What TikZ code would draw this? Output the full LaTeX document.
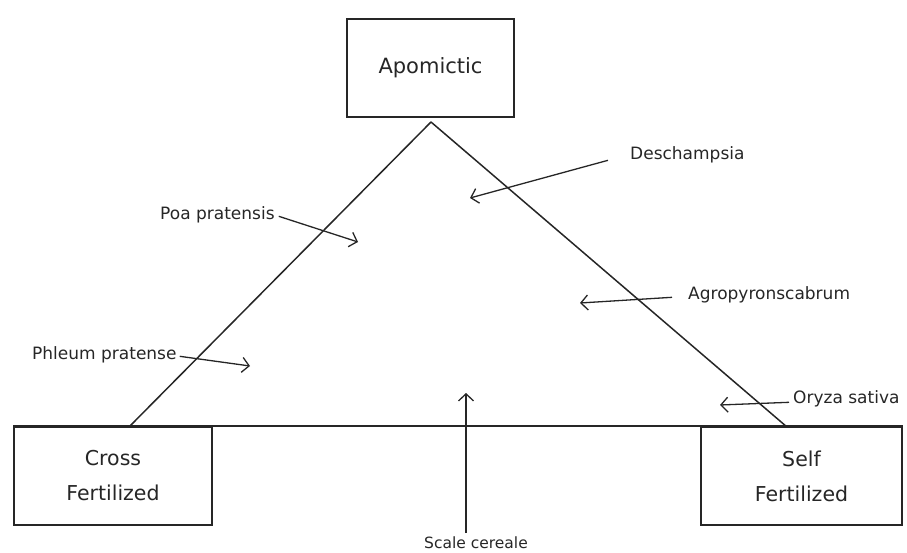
\documentclass[tikz,border=0pt]{standalone}
\usepackage{fontspec}
\setmainfont{DejaVu Sans}
\usetikzlibrary{arrows.meta}
\definecolor{ink}{HTML}{262626}
\begin{document}
\begin{tikzpicture}[x=1pt,y=-1pt,
  boxnode/.style={draw=ink,line width=1.7pt,text=ink,align=center,inner sep=0pt},
  lbl/.style={text=ink,anchor=base west,inner sep=0pt,font=\fontsize{17}{20}\selectfont},
  edge/.style={draw=ink,line width=1.5pt},
  ptr/.style={draw=ink,line width=1.3pt,-{Straight Barb[length=7pt,width=15pt,line width=1.3pt]}}]
\useasboundingbox (0,0) rectangle (907,553);
% boxes
\node[boxnode,minimum width=167pt,minimum height=98pt,font=\fontsize{21}{35}\selectfont] (apo) at (430.5,68) {Apomictic};
\node[boxnode,minimum width=198pt,minimum height=98pt,font=\fontsize{20.5}{35}\selectfont] (cross) at (113,476) {Cross\\Fertilized};
\node[boxnode,minimum width=201pt,minimum height=98pt,font=\fontsize{20.5}{35}\selectfont] (self) at (801.5,476) {Self\\Fertilized};
% triangle
\coordinate (apex) at (431,122);
\coordinate (lfoot) at (129,427);
\coordinate (rfoot) at (787,427);
\draw[edge] (apex) -- (lfoot);
\draw[edge] (apex) -- (rfoot);
\draw[edge] (cross.north west) -- (self.north east);
% labels
\node[lbl] (poa) at (160,220) {Poa pratensis};
\node[lbl] (phl) at (32,359) {Phleum pratense};
\node[lbl] (des) at (630,160) {Deschampsia};
\node[lbl] (agr) at (688,299) {Agropyronscabrum};
\node[lbl] (ory) at (793,403) {Oryza sativa};
\node[lbl,anchor=base,font=\fontsize{15.5}{18}\selectfont] (sca) at (476,548) {Scale cereale};
% arrow targets
\coordinate (tpoa) at (358,242);
\coordinate (tphl) at (250,366);
\coordinate (tdes) at (470,198);
\coordinate (tagr) at (580,303);
\coordinate (tory) at (720,405);
\coordinate (tsca) at (466,393);
\coordinate (ssca) at (466,533);
\draw[ptr] ([xshift=4pt,yshift=-1pt]poa.east) -- (tpoa);
\draw[ptr] ([xshift=3pt,yshift=-2pt]phl.east) -- (tphl);
\draw[ptr] ([xshift=-22pt,yshift=-5pt]des.west) -- (tdes);
\draw[ptr] ([xshift=-16pt,yshift=-3pt]agr.west) -- (tagr);
\draw[ptr] ([xshift=-4pt,yshift=-4pt]ory.west) -- (tory);
\draw[ptr] (ssca) -- (tsca);
\end{tikzpicture}
\end{document}
